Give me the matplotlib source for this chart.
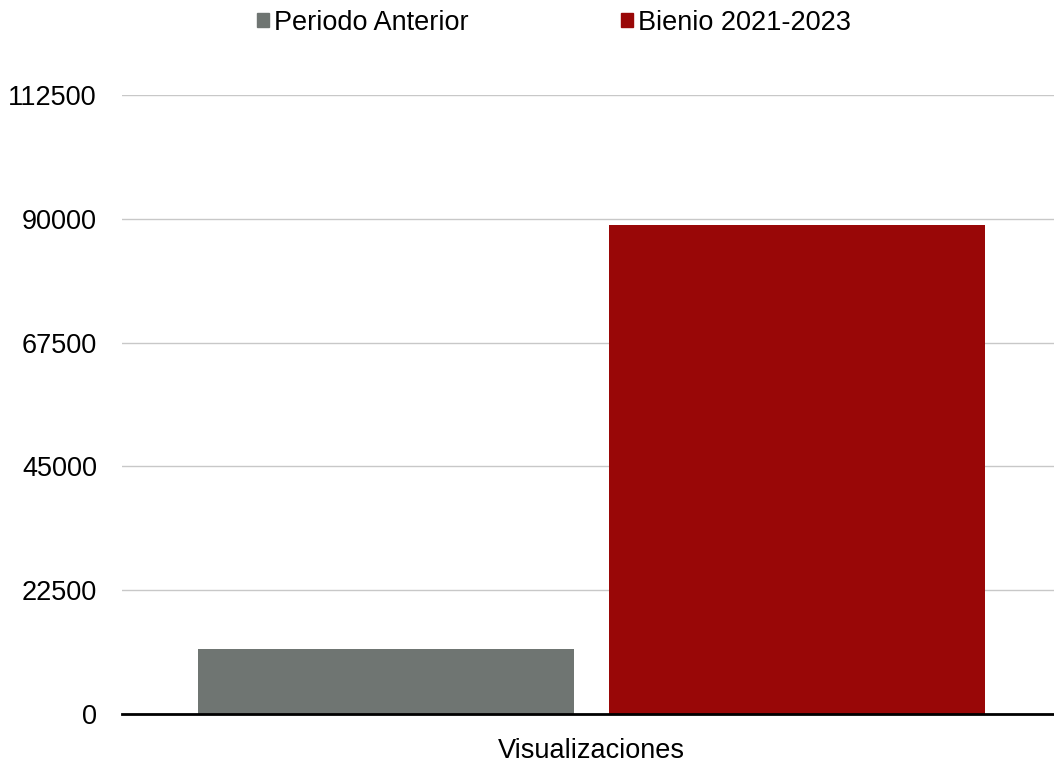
import matplotlib
matplotlib.use("Agg")
import matplotlib.pyplot as plt
from matplotlib.patches import Patch

categories = ["Visualizaciones"]
series_names = ["Periodo Anterior", "Bienio 2021-2023"]
values_anterior = [11800]
values_bienio = [88800]
yticks = [0, 22500, 45000, 67500, 90000, 112500]
colors = ["#6f7572", "#990707"]

plt.rcParams['font.family'] = ['Liberation Sans', 'DejaVu Sans']
FS = 19.5

W, H = 1054, 764
fig = plt.figure(figsize=(W/100, H/100), dpi=100)
ax = fig.add_axes([122/W, 1-714/H, (1054-122)/W, (714-95)/H])

width = 0.4034
off = 0.2206
x0 = 0
ax.bar(x0 - off, values_anterior[0], width=width, color=colors[0], zorder=3)
ax.bar(x0 + off, values_bienio[0], width=width, color=colors[1], zorder=3)
ax.set_xlim(-0.5 - 0.004, 0.5 - 0.004)
ax.set_ylim(0, 112500)
ax.set_yticks(yticks)
ax.set_yticklabels([str(v) for v in yticks], fontsize=FS)
ax.set_xticks([x0])
ax.set_xticklabels(categories, fontsize=FS)
ax.tick_params(axis='y', length=0, pad=18)
ax.tick_params(axis='x', length=0, pad=17)
for s in ['top', 'right', 'left']:
    ax.spines[s].set_visible(False)
ax.spines['bottom'].set_linewidth(2)
ax.spines['bottom'].set_zorder(4)
ax.grid(axis='y', color='#c8c8c8', linewidth=1, zorder=0)
ax.set_axisbelow(True)

handles = [Patch(color=colors[0]), Patch(color=colors[1])]
fig.legend(handles, series_names, loc='upper center', bbox_to_anchor=(554/W, 1.019),
           ncol=2, frameon=False, fontsize=FS, handlelength=0.45, handleheight=0.45,
           handletextpad=0.2, columnspacing=5.6)

fig.savefig("out.png", dpi=100)
